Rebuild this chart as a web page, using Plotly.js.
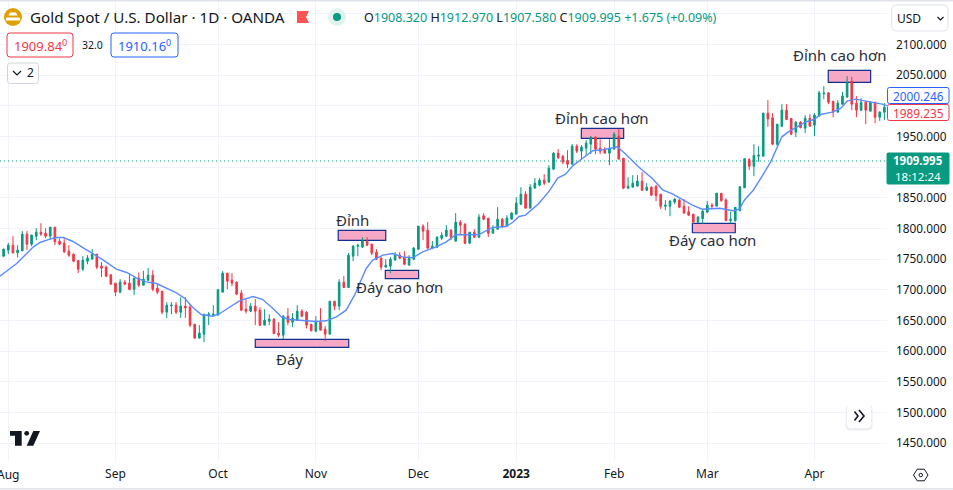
<!DOCTYPE html>
<html>
<head>
<meta charset="utf-8">
<script src="https://cdn.plot.ly/plotly-3.0.1.min.js"></script>
<style>html,body{margin:0;padding:0;background:#fff;overflow:hidden}</style>
</head>
<body>
<div id="chart" style="width:953px;height:490px"></div>
<script>
// bars are numbered by trading day, 0 = 1 Aug 2022, first visible bar is -1
const firstBar = -1;
const opens = [
  1754.9,1764.7,1772.8,1760.3,1763.6,1790.8,1774.4,1787.5,1794,1792.4,
  1787.5,1802.2,1779.4,1776.1,1763,1758.2,1747.8,1733.7,1746.7,1750,
  1758.2,1738.6,1737,1724.4,1710.9,1696.2,1712.5,1710.9,1701,1719,
  1707.6,1715.8,1723.9,1702.7,1697.8,1663.6,1673.9,1675,1663.6,1673.4,
  1671.7,1644,1621.2,1627.7,1658.7,1658.7,1658.7,1696.2,1727.2,1715.8,
  1712.5,1694.6,1668.5,1665.2,1673.4,1666.8,1642.4,1648.9,1652.2,1629.3,
  1626,1657,1647.3,1650.5,1665.2,1663.6,1644,1632.6,1647.3,1635.9,
  1627.7,1681.5,1673.4,1712.5,1703.8,1754.9,1771.2,1769.6,1779.4,1774.5,
  1761.4,1751.6,1737,1738.6,1748.4,1756.5,1753.3,1740.2,1750,1766.3,
  1803.8,1797.3,1768,1769.6,1784.2,1787.5,1797.3,1779.4,1810.3,1807,
  1776.1,1794,1785.9,1820.7,1816.9,1792.4,1798.9,1815.2,1803.8,1815.2,
  1823.4,1839.7,1856,1833.2,1865.8,1870.7,1878.8,1875.6,1896.8,1922.9,
  1918,1910.9,1904.9,1934.3,1926.1,1931,1937.5,1948.9,1931,1929.4,
  1922.9,1929.4,1950.6,1914.7,1865.8,1867.4,1869,1877.2,1862.5,1867.4,
  1869,1856,1836.4,1836.4,1843,1846.2,1836.4,1827.2,1823.4,1810.4,
  1816.3,1826.7,1838.1,1836.4,1857.4,1846.5,1812.7,1812.7,1829,1866.3,
  1912.5,1901.6,1917.9,1917.9,1988.1,1980.5,1937.5,1966.9,1993,1979.4,
  1957.1,1973.4,1963.6,1979.9,1968.5,1983.2,2019.6,2021.2,2007.6,1989.7,
  2002.7,2014.2,2040.2,2004.4,1993,2006,1991.3,2006,1981.5,1989.7
];
const highs = [
  1767.4,1776.6,1787.5,1772.8,1795.7,1795.7,1790.2,1800.5,1808.7,1800.5,
  1802.2,1802.2,1783.7,1782.6,1772.8,1759.2,1747.8,1754.9,1756.5,1766.3,
  1758.2,1745.1,1739.7,1725.5,1710.9,1717.4,1715.8,1727.2,1720.1,1728.3,
  1731,1735.3,1732,1709.2,1697.8,1679.9,1679.9,1679.9,1688,1688,
  1676.6,1644,1642.4,1660.3,1663.6,1675,1701.6,1730.4,1727.2,1727.2,
  1714.1,1699.5,1684.8,1678.3,1684.8,1671.7,1668.5,1660.3,1653.8,1647.3,
  1658.7,1670.1,1662,1675,1668.5,1665.2,1644,1657,1670.1,1640.8,
  1681.5,1681.5,1717.4,1722.3,1759.8,1772.8,1774.5,1785.9,1785.9,1774.5,
  1766.3,1753.3,1750,1753.3,1761.4,1761.4,1763,1756.5,1769.6,1803.8,
  1807,1810.3,1779.4,1787.5,1794,1805.4,1798.9,1825,1813.6,1808.7,
  1794,1798.9,1823.4,1825,1816.9,1805.4,1834.8,1816.9,1821.8,1826.7,
  1851.1,1867.4,1860.9,1872.3,1882.1,1882.1,1888.6,1903.3,1924.5,1929.4,
  1919.6,1927.7,1937.5,1937.5,1935.9,1944,1950.6,1950.6,1945.7,1932.6,
  1945.7,1957.1,1962,1914.7,1883.7,1887,1887,1891.9,1873.9,1869,
  1870.7,1856,1846.2,1846.2,1849.5,1847.9,1847.9,1836.4,1823.4,1820.1,
  1829.9,1844.6,1841.3,1857.6,1857.4,1849.2,1827.4,1834.5,1868.1,1914.7,
  1914.7,1937.5,1934.3,1988.1,2009.3,1988.1,1970.1,2002.7,2002.7,1979.4,
  1975,1975,1984.8,1986.4,1988.1,2024.5,2032.1,2022.3,2007.6,2009.3,
  2022.9,2048.4,2047.3,2015.8,2012.5,2007.6,2007.6,2006,1991.3,2004.4
];
const lows = [
  1753.3,1758.2,1759.2,1752.7,1763.6,1764.7,1771.2,1781,1788,1784.2,
  1782.1,1772.8,1772.8,1760.3,1753.8,1745.1,1727.2,1730.4,1741.8,1750,
  1733.7,1720.7,1720.7,1709.2,1689.7,1694.6,1707.6,1699.4,1691.3,1704.3,
  1707.6,1714.1,1697.8,1692.9,1660.3,1653.8,1660.3,1660.3,1654.3,1654.3,
  1639.1,1621.2,1621.2,1614.7,1642.4,1658.7,1658.7,1696.2,1701,1706,
  1691.3,1665.2,1661.4,1663.6,1642.4,1640.8,1642.4,1642.4,1627.7,1622.8,
  1619.6,1642.4,1639.1,1648.9,1655.4,1637,1632.6,1631,1634.2,1616.3,
  1627.7,1666.8,1666.8,1702.7,1703.8,1746.7,1754.9,1768,1771.2,1756.5,
  1748.4,1732,1737,1727.2,1748.4,1750,1740.2,1740.2,1748.4,1764.7,
  1781,1766.3,1766.3,1768,1781,1785.9,1781,1779.4,1789.1,1774.5,
  1774.5,1784.2,1784.2,1813.6,1785.9,1792.4,1798.9,1800.5,1803.8,1815.2,
  1823.4,1838.1,1833.2,1833.2,1865.8,1869,1870.7,1875.6,1895.1,1913.1,
  1904.9,1898.4,1904.9,1922.9,1913.1,1918,1921.2,1921.2,1921.2,1922.9,
  1903.3,1929.4,1913.1,1864.2,1864.2,1867.4,1869,1860.9,1860.9,1852.7,
  1844.6,1831.5,1829.9,1820.1,1839.7,1833.2,1825,1820.1,1807.1,1808.7,
  1807.1,1825,1831.5,1836.4,1843.7,1812.7,1808.4,1811.1,1829,1866.3,
  1895.1,1885.3,1908.7,1917.9,1965.8,1935.9,1934.3,1965.2,1976.7,1952.2,
  1949,1963.1,1955.5,1965.8,1950.6,1983.2,2010.9,2002.7,1981.5,1989.7,
  2002.7,2014.2,1993,1981.5,1991.3,1970.1,1991.3,1971.8,1975.6,1976.7
];
const closes = [
  1766.3,1772.8,1760.3,1764.7,1790.8,1774.4,1789.1,1794,1790.8,1787.5,
  1802.2,1778.3,1774.5,1762,1756.5,1746.7,1733.7,1748.4,1751.6,1758.2,
  1737,1735.3,1722.3,1709.2,1696.2,1712.5,1709.2,1700.5,1719,1707.6,
  1717.4,1723.9,1701,1696.2,1663.6,1675,1675,1663.6,1673.4,1670.6,
  1642.4,1621.2,1629.3,1660.3,1660.3,1660.3,1700,1727.2,1714.1,1710.9,
  1693,1666.8,1665.2,1673.4,1665.2,1642.4,1650.5,1652.2,1628.8,1626,
  1657,1647.3,1653.8,1665.2,1657,1642.4,1633.1,1647.3,1634.2,1627.7,
  1681.5,1673.4,1712.5,1703.8,1756.5,1771.2,1772.8,1779.4,1772.8,1759.8,
  1750,1737,1740.2,1750,1756.5,1751.6,1741.8,1751.1,1768,1803.8,
  1795.7,1768,1771.2,1785.9,1789.1,1797.3,1785.9,1810.3,1805.4,1776.1,
  1794,1785.9,1818.5,1815.2,1792.4,1798.9,1815.2,1803.8,1816.9,1825,
  1841.3,1856,1833.2,1867.4,1873.9,1878.8,1873.9,1898.4,1922.9,1915.8,
  1908.2,1904.9,1934.3,1926.1,1932.6,1939.2,1948.9,1929.4,1926.1,1922.9,
  1931,1953.8,1913.1,1865.8,1869,1873.9,1877.2,1862.5,1867.4,1854.4,
  1853.3,1836.4,1838.1,1844.6,1847.9,1834.8,1825,1821.8,1810.4,1818.5,
  1828.3,1838.1,1836.4,1857.6,1845.3,1812.7,1815,1834.5,1868.1,1913.6,
  1901.6,1919,1919.6,1988.1,1978.8,1937.5,1970.1,1993,1977.7,1953.8,
  1973.4,1964.7,1979.9,1966.9,1984.8,2021.2,2020.7,2006,1989.7,2004.4,
  2015.8,2038.6,2002.7,1993,2006,1993,2006,1981.5,1989.7,1997.9
];

// the blue moving average, read at these bars
const maBars = [-1.8,1.8,5.4,6.8,8.9,10.4,11.8,13.9,16.1,18.2,20.4,23.2,25.4,27.5,29.6,31.8,33.9,36.1,37.9,39.6,41.4,43.9,45.4,47.5,49.6,52.5,54.6,56.8,58.6,60.4,63.2,66,68.2,70.4,72.5,74.3,76.8,78.2,80.4,82.5,84.6,86.8,88.9,91.8,94,96.1,98.2,101,103.9,106.8,108.2,109.6,111,113.9,116.1,117.9,119.6,121.1,123.2,125.4,127.5,129.6,130.7,132.5,135.4,138.2,140.4,142.5,144.6,146.8,148.9,152.7,155.5,156.8,158,159.9,161.7,163.6,166,167.4,171.1,172.9,174.3,176.8,178.6,180,181.8,184.6,187.8,188.6];
const maValues = [1722.3,1743,1770.1,1777.2,1782.6,1785.3,1785.3,1778.8,1768.5,1759.2,1748.4,1733.7,1728.3,1719.6,1713,1710.3,1702.7,1695.1,1685.9,1671.2,1659.8,1657,1661.4,1671.2,1682.1,1689.1,1684.2,1669.6,1656,1651.6,1649.5,1648.4,1649.5,1656,1666.8,1691.3,1734.8,1748.4,1756.5,1759.2,1753.8,1752.2,1762,1770.1,1778.3,1790.2,1789.7,1790.2,1801.7,1803.3,1809.8,1819.6,1821.8,1841.3,1861.4,1882.1,1888.6,1902.2,1914.2,1926.7,1928.3,1931,1933.2,1921.2,1899.5,1881.6,1863.1,1856.5,1847.9,1838.1,1831.5,1833,1829,1831.3,1846.5,1862.8,1884.5,1908.7,1949.5,1957.6,1973.9,1977.7,1985.9,1989.7,1995.7,2007.6,2010.9,2007.1,2002.5,2000.2];

// marked zones on the chart
const zoneStart = [53, 70.8, 80.9, 122.97, 146.8, 175.95];
const zoneEnd = [73.05, 81, 88.05, 132.05, 156, 185.05];
const zoneTop = [1619.3, 1797, 1731.8, 1963.4, 1808.5, 2057.9];
const zoneBottom = [1606.3, 1780.7, 1718.1, 1947, 1793.1, 2038.4];

const monthBars = [0,23,45,66,88,109,130,150,173];
const monthLabels = ['','Sep','Oct','Nov','Dec','<b>2023</b>','Feb','Mar','Apr'];
const priceTicks = [1450,1500,1550,1600,1650,1700,1750,1800,1850,1900,1950,2000,2050,2100,2150];
// 1900 and 2000 sit under the price tags, 2150 has no label
const priceLabels = priceTicks.map(p => [1900, 2000, 2150].includes(p) ? ' ' : p.toFixed(3));
const lastPrice = 1909.995;

const bars = opens.map((o, i) => firstBar + i);
const UP = '#089981', DOWN = '#f23645', BLUE = '#2962ff', INK = '#131722';
const FONT = '"Noto Sans", sans-serif';
const W = 887, H = 460;

// decorations are placed in screen pixels, converted to paper coords
const px = x => x / W;
const py = y => 1 - y / H;

function box(x0, y0, x1, y1, line, fill, width, layer) {
  return { type: 'rect', xref: 'paper', yref: 'paper', x0: px(x0), x1: px(x1), y0: py(y0), y1: py(y1),
    line: { color: line, width: width === undefined ? 1 : width }, fillcolor: fill || 'rgba(0,0,0,0)', layer: layer || 'above' };
}
function path(d, line, fill, width) {
  // d is a list of [x, y] pixels
  const s = d.map((p, i) => (i ? 'L' : 'M') + px(p[0]) + ',' + py(p[1])).join(' ');
  return { type: 'path', xref: 'paper', yref: 'paper', path: s + (fill ? ' Z' : ''),
    line: { color: line || 'rgba(0,0,0,0)', width: width || 0 }, fillcolor: fill || 'rgba(0,0,0,0)', layer: 'above' };
}
function rounded(x0, y0, x1, y1, r, line, fill) {
  const xs = v => px(v), ys = v => py(v);
  const s = `M${xs(x0 + r)},${ys(y0)} L${xs(x1 - r)},${ys(y0)} Q${xs(x1)},${ys(y0)} ${xs(x1)},${ys(y0 + r)} ` +
    `L${xs(x1)},${ys(y1 - r)} Q${xs(x1)},${ys(y1)} ${xs(x1 - r)},${ys(y1)} L${xs(x0 + r)},${ys(y1)} ` +
    `Q${xs(x0)},${ys(y1)} ${xs(x0)},${ys(y1 - r)} L${xs(x0)},${ys(y0 + r)} Q${xs(x0)},${ys(y0)} ${xs(x0 + r)},${ys(y0)} Z`;
  return { type: 'path', xref: 'paper', yref: 'paper', path: s, line: { color: line || 'rgba(0,0,0,0)', width: line ? 1 : 0 },
    fillcolor: fill || '#ffffff', layer: 'above' };
}
function circle(cx, cy, r, fill) {
  return { type: 'circle', xref: 'paper', yref: 'paper', x0: px(cx - r), x1: px(cx + r), y0: py(cy + r), y1: py(cy - r),
    line: { width: 0 }, fillcolor: fill, layer: 'above' };
}
function label(x, y, text, size, color, anchor, extra) {
  return Object.assign({ xref: 'paper', yref: 'paper', x: px(x), y: py(y), text: text, showarrow: false, xanchor: anchor || 'left',
    yanchor: 'middle', borderpad: 0, font: { family: FONT, size: size, color: color || INK } }, extra || {});
}

const PINK = '#f6a8c4', NAVY = '#12308f';
const g = t => `<span style="color:${UP}">${t}</span>`;

const zones = zoneStart.map((s, i) => ({
  type: 'rect', xref: 'x', yref: 'y', x0: s, x1: zoneEnd[i], y0: zoneBottom[i], y1: zoneTop[i],
  line: { color: NAVY, width: 1.2 }, fillcolor: PINK, layer: 'between'
}));

const shapes = zones.concat([
  // top and bottom border
  box(0, 0, 953, 1.5, '#e0e3eb', '#e0e3eb', 0),
  box(0, 488, 953, 489.5, '#e0e3eb', '#e0e3eb', 0),
  // last price line
  { type: 'line', xref: 'x', yref: 'y', x0: -1.78, x1: 188.56, y0: lastPrice, y1: lastPrice, line: { color: UP, width: 1, dash: '1px,3px' }, layer: 'between' },
  // symbol icon
  circle(13, 17, 9, '#e0a000'),
  path([[10, 12.5], [16, 12.5], [17.5, 15.5], [8.5, 15.5]], null, '#ffffff'),
  path([[6.5, 17.5], [19.5, 17.5], [20.5, 20.5], [5.5, 20.5]], null, '#ffffff'),
  // flag
  path([[297, 11], [309, 11], [306, 17], [309, 23], [297, 23]], null, '#ff5252'),
  // market status
  circle(337, 17, 9, '#e0f3ef'),
  circle(337, 17, 4, UP),
  // buy / sell boxes
  rounded(7, 33, 73, 57, 3, '#f23645', '#ffffff'),
  rounded(111, 33, 178, 57, 3, BLUE, '#ffffff'),
  rounded(7.5, 63, 38.5, 83.5, 3, '#d1d4dc', '#ffffff'),
  path([[13, 71], [17, 75], [21, 71]], INK, null, 1.2),
  // currency button
  rounded(891.7, 5, 948, 31, 5, '#e0e3eb', '#ffffff'),
  path([[937.5, 17], [940.5, 20], [943.5, 17]], INK, null, 1.2),
  // price scale labels
  rounded(887.5, 87.5, 949, 103.5, 2, BLUE, '#ffffff'),
  rounded(887.5, 104.5, 949, 120.5, 2, '#f23645', '#ffffff'),
  rounded(887, 153, 949, 184, 1, UP, UP),
  // scroll button
  rounded(846, 405, 872, 430, 4, '#eceef3', '#eceef3'),
  rounded(847, 404, 871, 428, 4, null, '#ffffff'),
  path([[854.5, 411.5], [858, 416], [854.5, 420.5]], INK, null, 1.6),
  path([[859, 410], [864, 416], [859, 422]], INK, null, 1.6),
  // logo
  path([[10, 431], [21.7, 431], [21.7, 445.7], [15, 445.7], [15, 435.7], [10, 435.7]], null, INK),
  circle(26.7, 433.3, 2.4, INK),
  path([[33.3, 431], [40, 431], [33.3, 445.7], [26.7, 445.7]], null, INK),
  // settings
  path([[913.5, 475], [917.2, 469.2], [924.3, 469.2], [928, 475], [924.3, 480.8], [917.2, 480.8], [913.5, 475]], INK, null, 1),
  { type: 'circle', xref: 'paper', yref: 'paper', x0: px(919), x1: px(922.5), y0: py(476.8), y1: py(473.3), line: { color: INK, width: 1 }, fillcolor: 'rgba(0,0,0,0)', layer: 'above' }
]);

const annotations = [
  label(29, 17, 'Gold Spot / U.S. Dollar · 1D · OANDA', 15.2),
  label(363, 17, 'O' + g('1908.320') + ' H' + g('1912.970') + ' L' + g('1907.580') + ' C' + g('1909.995') + ' ' + g('+1.675 (+0.09%)'), 12.5),
  label(40, 46, '1909.84<sup>0</sup>', 13, '#f23645', 'center'),
  label(92, 45, '32.0', 10.5, INK, 'center'),
  label(144.5, 46, '1910.16<sup>0</sup>', 13, BLUE, 'center'),
  label(26, 73, '2', 12, INK, 'left'),
  label(896, 18, 'USD', 12, INK, 'left'),
  label(8.3, 474, 'Aug', 12, INK, 'center'),
  label(918, 96, '2000.246', 11.8, BLUE, 'center'),
  label(918, 113, '1989.235', 11.8, '#f23645', 'center'),
  label(918, 160.8, '<b>1909.995</b>', 11.5, '#ffffff', 'center'),
  label(918, 176.5, '18:12:24', 11.5, '#ffffff', 'center'),
  label(289, 359, 'Đáy', 15, '#2a2e39', 'center'),
  label(352, 220, 'Đỉnh', 15, '#2a2e39', 'center'),
  label(399, 287, 'Đáy cao hơn', 15, '#2a2e39', 'center'),
  label(602, 118, 'Đỉnh cao hơn', 15, '#2a2e39', 'center'),
  label(712, 240, 'Đáy cao hơn', 15, '#2a2e39', 'center'),
  label(840, 55, 'Đỉnh cao hơn', 15, '#2a2e39', 'center')
];

const traces = [
  {
    type: 'scatter', mode: 'lines', x: maBars, y: maValues, hoverinfo: 'skip',
    line: { color: '#5b8cff', width: 1.4 }
  },
  {
    type: 'candlestick', x: bars, open: opens, high: highs, low: lows, close: closes, hoverinfo: 'skip', whiskerwidth: 0,
    increasing: { line: { color: UP, width: 1 }, fillcolor: UP },
    decreasing: { line: { color: DOWN, width: 1 }, fillcolor: DOWN }
  }
];

const layout = {
  width: 953, height: 490,
  margin: { l: 0, r: 66, t: 0, b: 30, pad: 0 },
  paper_bgcolor: '#ffffff', plot_bgcolor: '#ffffff',
  showlegend: false,
  boxgap: 0.5,
  font: { family: FONT, size: 12, color: INK },
  xaxis: {
    type: 'linear', range: [-1.78, 188.56], rangeslider: { visible: false },
    tickmode: 'array', tickvals: monthBars, ticktext: monthLabels, ticks: '', ticklabelstandoff: 5,
    showgrid: true, gridcolor: '#f0f3fa', gridwidth: 1, zeroline: false, showline: false,
    tickfont: { family: FONT, size: 12, color: INK }, fixedrange: true
  },
  yaxis: {
    side: 'right', range: [1422.5, 2172.6],
    tickmode: 'array', tickvals: priceTicks, ticktext: priceLabels, ticks: '', ticklabelstandoff: 8,
    showgrid: true, gridcolor: '#f0f3fa', gridwidth: 1, zeroline: false, showline: false,
    tickfont: { family: FONT, size: 11.8, color: INK }, fixedrange: true
  },
  shapes: shapes,
  annotations: annotations
};

Plotly.newPlot('chart', traces, layout, { staticPlot: true, displayModeBar: false });
</script>
</body>
</html>
